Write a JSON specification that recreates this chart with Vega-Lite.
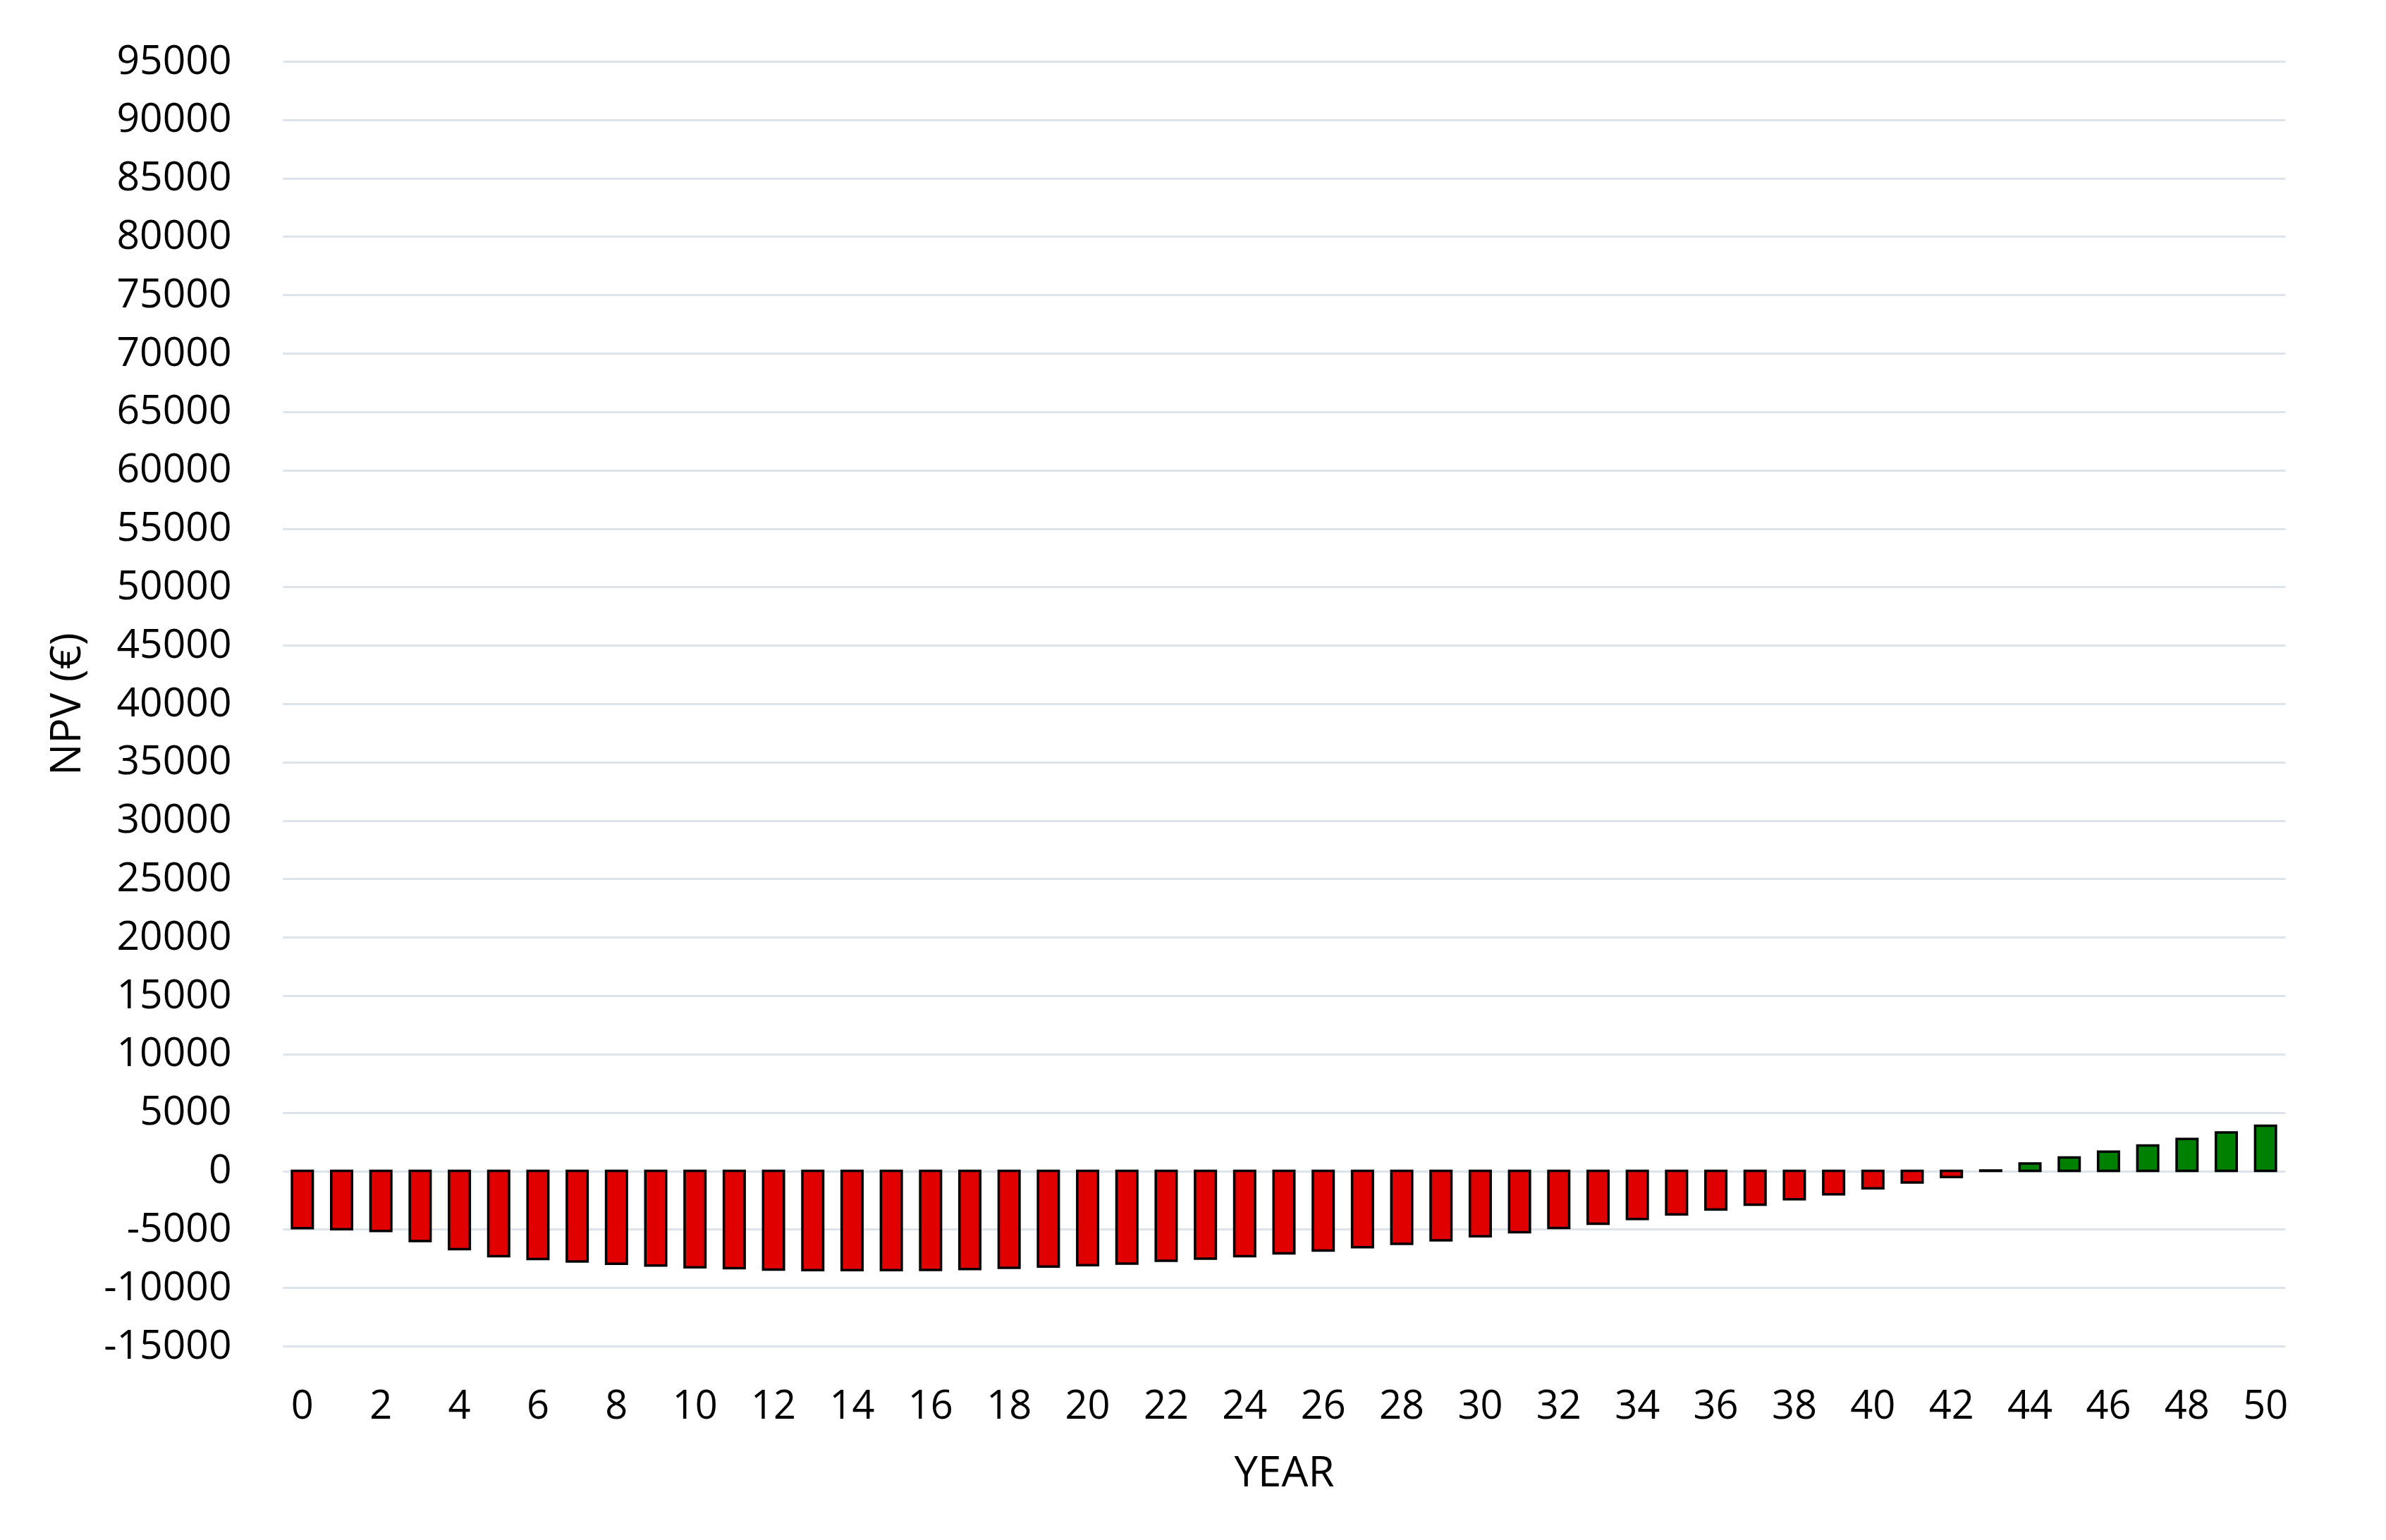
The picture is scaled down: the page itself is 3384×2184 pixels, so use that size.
{
  "$schema": "https://vega.github.io/schema/vega-lite/v6.json",
  "autosize": {"type": "none"},
  "width": 2840,
  "height": 1822,
  "padding": {"left": 401, "top": 87, "right": 143, "bottom": 275},
  "background": "white",
  "config": {"view": {"stroke": null}, "font": "Open Sans"},
  "data": {"values": [
    {"year": 0, "npv": -4900}, {"year": 1, "npv": -5000}, {"year": 2, "npv": -5150},
    {"year": 3, "npv": -6000}, {"year": 4, "npv": -6700}, {"year": 5, "npv": -7300},
    {"year": 6, "npv": -7550}, {"year": 7, "npv": -7750}, {"year": 8, "npv": -7950},
    {"year": 9, "npv": -8100}, {"year": 10, "npv": -8250}, {"year": 11, "npv": -8330},
    {"year": 12, "npv": -8450}, {"year": 13, "npv": -8500}, {"year": 14, "npv": -8500},
    {"year": 15, "npv": -8500}, {"year": 16, "npv": -8480}, {"year": 17, "npv": -8400},
    {"year": 18, "npv": -8300}, {"year": 19, "npv": -8190}, {"year": 20, "npv": -8070},
    {"year": 21, "npv": -7930}, {"year": 22, "npv": -7690}, {"year": 23, "npv": -7520},
    {"year": 24, "npv": -7300}, {"year": 25, "npv": -7060}, {"year": 26, "npv": -6820},
    {"year": 27, "npv": -6540}, {"year": 28, "npv": -6240}, {"year": 29, "npv": -5940},
    {"year": 30, "npv": -5590}, {"year": 31, "npv": -5250}, {"year": 32, "npv": -4890},
    {"year": 33, "npv": -4530}, {"year": 34, "npv": -4120}, {"year": 35, "npv": -3720},
    {"year": 36, "npv": -3300}, {"year": 37, "npv": -2900}, {"year": 38, "npv": -2430},
    {"year": 39, "npv": -2000}, {"year": 40, "npv": -1490}, {"year": 41, "npv": -1000},
    {"year": 42, "npv": -520}, {"year": 43, "npv": 30}, {"year": 44, "npv": 640},
    {"year": 45, "npv": 1150}, {"year": 46, "npv": 1650}, {"year": 47, "npv": 2170},
    {"year": 48, "npv": 2740}, {"year": 49, "npv": 3300}, {"year": 50, "npv": 3860}
  ]},
  "mark": {"type": "bar", "stroke": "black", "strokeWidth": 3.5},
  "encoding": {
    "x": {
      "field": "year", "type": "ordinal", "sort": "ascending",
      "scale": {"paddingInner": 0.47, "paddingOuter": 0.235},
      "axis": {
        "values": [0,2,4,6,8,10,12,14,16,18,20,22,24,26,28,30,32,34,36,38,40,42,44,46,48,50],
        "labelAngle": 0, "labelFontSize": 56, "labelColor": "black", "labelPadding": 58,
        "ticks": false, "domain": false, "grid": false,
        "title": "YEAR", "titleFontSize": 60, "titleFontWeight": "normal", "titleColor": "black",
        "titleX": 1420, "titleY": 180, "titleBaseline": "middle", "titleAlign": "center"
      }
    },
    "y": {
      "field": "npv", "type": "quantitative",
      "scale": {"domain": [-15000, 95000], "nice": false, "zero": false},
      "axis": {
        "values": [-15000,-10000,-5000,0,5000,10000,15000,20000,25000,30000,35000,40000,45000,50000,55000,60000,65000,70000,75000,80000,85000,90000,95000],
        "labelExpr": "'' + datum.value", "labelLimit": 0,
        "labelFontSize": 57, "labelColor": "black", "labelPadding": 73,
        "ticks": false, "domain": false,
        "grid": true, "gridColor": "#dde3ea", "gridWidth": 3,
        "title": "NPV (€)", "titleFontSize": 60, "titleFontWeight": "normal", "titleColor": "black",
        "titleAngle": -90, "titleX": -306, "titleY": 911, "titleBaseline": "middle", "titleAlign": "center"
      }
    },
    "color": {
      "condition": {"test": "datum.npv < 0", "value": "#e00000"},
      "value": "#008000"
    }
  }
}
